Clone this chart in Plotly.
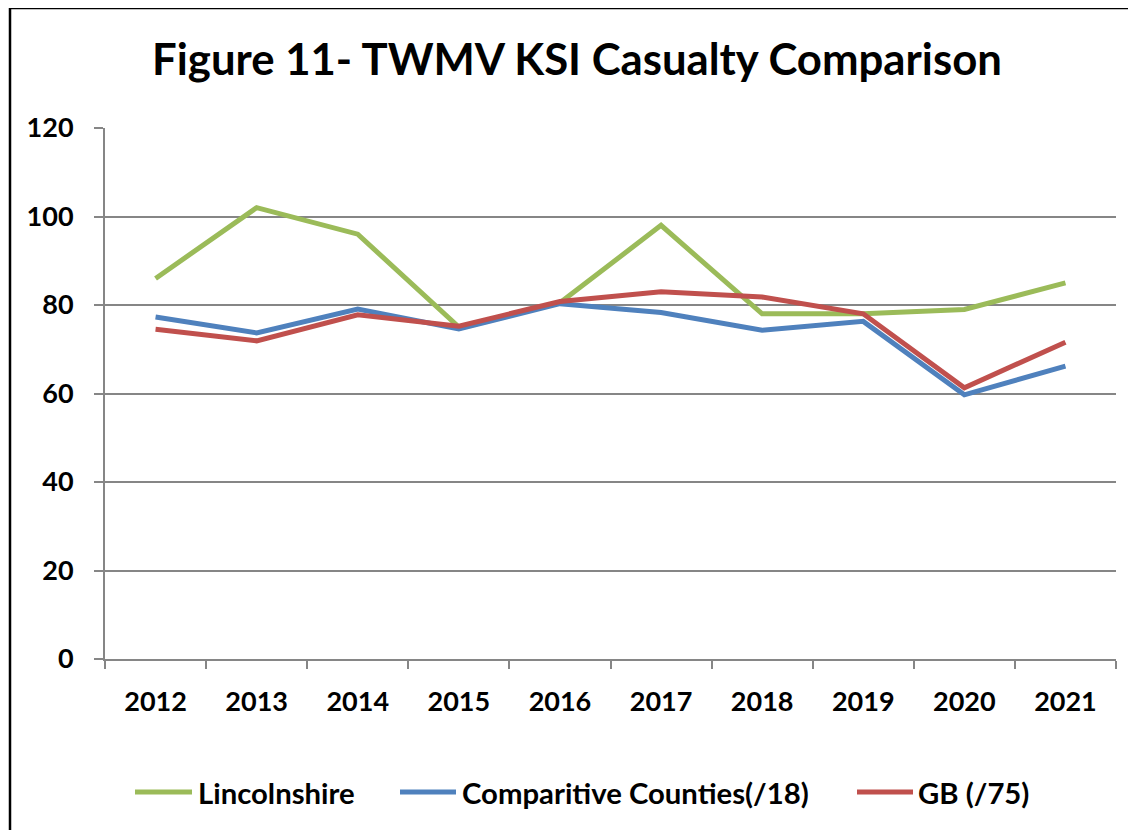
import plotly.graph_objects as go

years = ["2012", "2013", "2014", "2015", "2016", "2017", "2018", "2019", "2020", "2021"]
lincolnshire = [86, 102, 96, 75, 80.5, 98, 78, 78, 79, 85]
comparative = [77.3, 73.7, 79.1, 74.6, 80.3, 78.3, 74.3, 76.3, 59.7, 66.2]
gb = [74.5, 71.9, 77.8, 75.2, 80.8, 83.0, 81.8, 78.0, 61.3, 71.6]

series_names = ["Lincolnshire", "Comparitive Counties(/18)", "GB (/75)"]
series_values = [lincolnshire, comparative, gb]
colors = ["#9BBB59", "#4F81BD", "#C0504D"]

W, H = 1136, 830
OFF = 8  # page body margin
L, R, T, B = 105 - OFF, 1136 - (1116 - OFF), 128 - OFF, 830 - (659 - OFF)
pw, ph = W - L - R, H - T - B

def px_x(px):
    return (px - OFF - L) / pw

def px_y(py):
    return (H - B - (py - OFF)) / ph

FONT = "Lato, 'Open Sans', sans-serif"

fig = go.Figure()
for name, vals, c in zip(series_names, series_values, colors):
    fig.add_trace(go.Scatter(x=years, y=vals, mode="lines", name=name,
                             line=dict(color=c, width=5), showlegend=False))

shapes = []
annotations = []
# manual legend
legend_pos = [(135, 192, 196), (400, 456, 460), (857, 913, 916)]
for (x0, x1, xt), name, c in zip(legend_pos, series_names, colors):
    ly = px_y(792)
    shapes.append(dict(type="line", xref="paper", yref="paper", x0=px_x(x0), x1=px_x(x1),
                       y0=ly, y1=ly, line=dict(color=c, width=5)))
    annotations.append(dict(text=f"<b>{name}</b>", xref="paper", yref="paper",
                            x=px_x(xt), y=ly, xanchor="left", yanchor="middle",
                            showarrow=False, font=dict(family=FONT, size=29.3, color="black")))

# outer frame (left and top edges visible)
shapes.append(dict(type="line", xref="paper", yref="paper", x0=px_x(10), x1=px_x(10),
                   y0=px_y(7), y1=px_y(850), line=dict(color="black", width=2.5)))
shapes.append(dict(type="line", xref="paper", yref="paper", x0=px_x(9), x1=px_x(1150),
                   y0=px_y(8), y1=px_y(8), line=dict(color="black", width=2.5)))

fig.update_layout(
    width=W, height=H,
    margin=dict(l=L, r=R, t=T, b=B, autoexpand=False),
    paper_bgcolor="white", plot_bgcolor="white",
    title=dict(text="<b>Figure 11- TWMV KSI Casualty Comparison</b>",
               x=(577 - OFF) / W, xanchor="center", y=1 - (60 - OFF) / H, yanchor="middle",
               xref="container", yref="container",
               font=dict(family=FONT, size=43.7, color="black")),
    shapes=shapes, annotations=annotations,
    xaxis=dict(type="category", range=[-0.5, 9.5], showgrid=False,
               showline=True, linecolor="#868686", linewidth=2,
               ticks="outside", tickson="boundaries", ticklen=8, tickcolor="#868686", tickwidth=1.5,
               tickfont=dict(family=FONT, size=27, color="black"),
               tickprefix="<b>", ticksuffix="</b>", ticklabelstandoff=18),
    yaxis=dict(range=[0, 120], dtick=20, showgrid=True, gridcolor="#868686", gridwidth=2,
               showline=True, linecolor="#868686", linewidth=2, zeroline=False,
               ticks="outside", ticklen=9, tickcolor="#868686", tickwidth=1.5,
               tickfont=dict(family=FONT, size=27, color="black"),
               tickprefix="<b>", ticksuffix="</b>", ticklabelstandoff=15),
)

fig.write_html("out.html")
